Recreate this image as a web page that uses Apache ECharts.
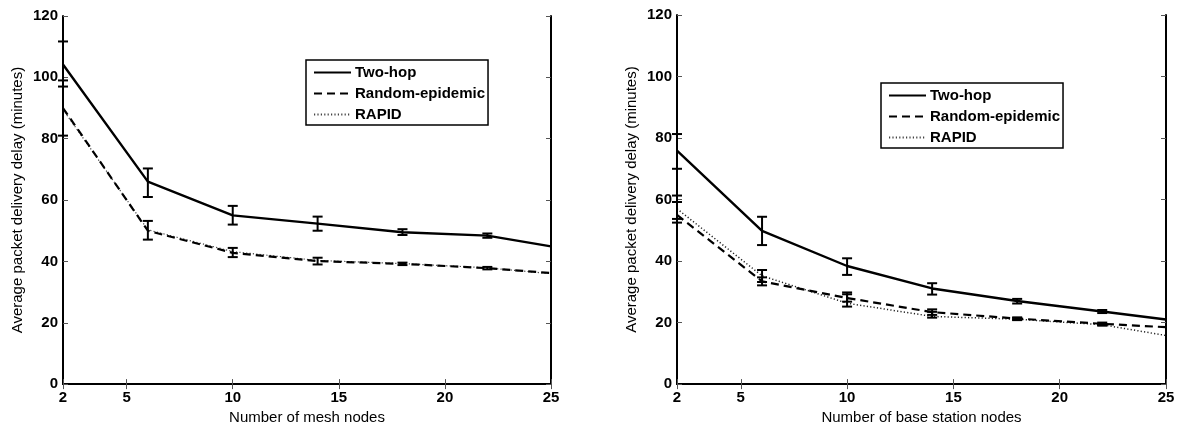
<!DOCTYPE html>
<html>
<head>
<meta charset="utf-8">
<script src="https://cdn.jsdelivr.net/npm/echarts@6/dist/echarts.min.js"></script>
<style>
html,body{margin:0;padding:0;background:#fff;}
#chart{width:1184px;height:430px;}
</style>
</head>
<body>
<div id="chart"></div>
<script>
// ---- data ----
const xs = [2, 6, 10, 14, 18, 22, 25];
const xTicks = [2, 5, 10, 15, 20, 25];
const yTicks = [0, 20, 40, 60, 80, 100, 120];
const seriesNames = ['Two-hop', 'Random-epidemic', 'RAPID'];

// Left: mesh nodes
const meshTwoHop      = [104.2, 66.0, 55.0, 52.3, 49.5, 48.4, 44.9];
const meshTwoHopLow   = [97.0, 61.0, 52.0, 50.0, 48.6, 47.7];
const meshTwoHopHigh  = [111.7, 70.3, 58.1, 54.6, 50.5, 49.1];
const meshRandom      = [90.0, 50.0, 42.8, 40.1, 39.2, 37.8, 36.2];
const meshRandomLow   = [81.0, 47.1, 41.4, 39.0, 38.8, 37.4];
const meshRandomHigh  = [99.0, 53.2, 44.4, 41.2, 39.6, 38.2];
const meshRapid       = [89.5, 50.3, 43.2, 40.3, 39.3, 37.9, 36.0];

// Right: base station nodes
const bsTwoHop      = [75.9, 49.8, 38.4, 31.1, 27.0, 23.6, 21.0];
const bsTwoHopLow   = [70.0, 45.2, 35.5, 29.1, 26.2, 23.1];
const bsTwoHopHigh  = [81.3, 54.4, 40.9, 32.8, 27.7, 24.1];
const bsRandom      = [55.0, 33.4, 28.0, 23.4, 21.3, 19.6, 18.5];
const bsRandomLow   = [52.5, 32.1, 26.8, 22.5, 20.9, 19.2];
const bsRandomHigh  = [59.2, 34.7, 29.2, 24.3, 21.7, 20.0];
const bsRapid       = [57.0, 35.2, 26.3, 22.0, 21.1, 19.3, 15.8];
const bsRapidLow    = [53.7, 33.2, 25.2, 21.6, 20.8, 19.0];
const bsRapidHigh   = [61.3, 37.1, 29.8, 23.5, 21.5, 19.6];

const xNames = ['Number of mesh nodes', 'Number of base station nodes'];
const yName = 'Average packet delivery delay (minutes)';

// ---- helpers ----
const pts = (vals) => vals.map((v, i) => [xs[i], v]);
const bars = (lo, hi) => lo.map((v, i) => [xs[i], v, hi[i]]);

function errRender(params, api) {
  const x = api.value(0), lo = api.value(1), hi = api.value(2);
  const a = api.coord([x, lo]), b = api.coord([x, hi]);
  const w = 5;
  const st = {stroke: '#000', lineWidth: 2};
  return {type: 'group', children: [
    {type: 'line', shape: {x1: a[0], y1: a[1], x2: b[0], y2: b[1]}, style: st},
    {type: 'line', shape: {x1: a[0]-w, y1: a[1], x2: a[0]+w, y2: a[1]}, style: st},
    {type: 'line', shape: {x1: b[0]-w, y1: b[1], x2: b[0]+w, y2: b[1]}, style: st}
  ]};
}

const tickFont = {fontFamily: 'Liberation Sans, Arial, sans-serif', fontWeight: 'bold', fontSize: 15, color: '#000'};
const nameFont = {fontFamily: 'Liberation Sans, Arial, sans-serif', fontSize: 15, color: '#000'};
const axLine = {show: true, lineStyle: {color: '#000', width: 2}};

const grids = [
  {left: 63, top: 16, width: 488, height: 371},
  {left: 677, top: 15, width: 489, height: 371}
];

const xAxes = [], yAxes = [];
[0, 1].forEach(g => {
  xAxes.push({
    type: 'value', gridIndex: g, min: 2, max: 25, position: 'bottom',
    name: xNames[g], nameLocation: 'middle', nameGap: 24, nameTextStyle: nameFont,
    axisLine: axLine,
    axisTick: {show: true, inside: true, length: 5, customValues: xTicks, lineStyle: {color: '#555', width: 1}},
    axisLabel: {show: true, customValues: xTicks, margin: 6, ...tickFont, showMinLabel: true, showMaxLabel: true},
    splitLine: {show: false}
  });
  xAxes.push({
    type: 'value', gridIndex: g, min: 2, max: 25, position: 'top',
    axisLine: axLine,
    axisTick: {show: true, inside: true, length: 5, customValues: xTicks, lineStyle: {color: '#555', width: 1}},
    axisLabel: {show: false}, splitLine: {show: false}
  });
  yAxes.push({
    type: 'value', gridIndex: g, min: 0, max: 120, interval: 20, position: 'left',
    name: yName, nameLocation: 'middle', nameGap: 38, nameRotate: 90, nameTextStyle: nameFont,
    axisLine: axLine,
    axisTick: {show: true, inside: true, length: 5, lineStyle: {color: '#555', width: 1}},
    axisLabel: {show: true, margin: 5, ...tickFont},
    splitLine: {show: false}
  });
  yAxes.push({
    type: 'value', gridIndex: g, min: 0, max: 120, interval: 20, position: 'right',
    axisLine: axLine,
    axisTick: {show: true, inside: true, length: 5, lineStyle: {color: '#555', width: 1}},
    axisLabel: {show: false}, splitLine: {show: false}
  });
});

function lineSeries(name, data, g, type, width, color, z) {
  return {
    type: 'line', name: name, data: data,
    xAxisIndex: g * 2, yAxisIndex: g * 2,
    symbol: 'none', showSymbol: false, smooth: false, z: z,
    lineStyle: {type: type, width: width, color: color},
    itemStyle: {color: color},
    animation: false
  };
}
function errSeries(lo, hi, g) {
  return {
    type: 'custom', name: 'err', data: bars(lo, hi),
    xAxisIndex: g * 2, yAxisIndex: g * 2, z: 5,
    renderItem: errRender, animation: false, silent: true
  };
}

const dotted = [1.2, 2.2];
const dashed = [8, 5];

const series = [
  lineSeries('RAPID', pts(meshRapid), 0, dotted, 1.2, '#444', 2),
  lineSeries('Random-epidemic', pts(meshRandom), 0, dashed, 2.2, '#000', 3),
  lineSeries('Two-hop', pts(meshTwoHop), 0, 'solid', 2.4, '#000', 4),
  errSeries(meshTwoHopLow, meshTwoHopHigh, 0),
  errSeries(meshRandomLow, meshRandomHigh, 0),
  lineSeries('RAPID', pts(bsRapid), 1, dotted, 1.5, '#222', 2),
  lineSeries('Random-epidemic', pts(bsRandom), 1, dashed, 2.2, '#000', 3),
  lineSeries('Two-hop', pts(bsTwoHop), 1, 'solid', 2.4, '#000', 4),
  errSeries(bsTwoHopLow, bsTwoHopHigh, 1),
  errSeries(bsRandomLow, bsRandomHigh, 1),
  errSeries(bsRapidLow, bsRapidHigh, 1)
];

const legendBase = {
  orient: 'vertical', data: seriesNames,
  itemWidth: 37, itemHeight: 14, itemGap: 6,
  borderColor: '#000', borderWidth: 1.5, backgroundColor: '#fff',
  padding: [5, 3, 3, 7],
  itemStyle: {opacity: 0},
  textStyle: {fontFamily: 'Liberation Sans, Arial, sans-serif', fontWeight: 'bold', fontSize: 15, color: '#000', padding: [0, 0, 0, -1]},
  selectedMode: false
};

const chart = echarts.init(document.getElementById('chart'), null, {renderer: 'canvas'});
chart.setOption({
  animation: false,
  backgroundColor: '#fff',
  grid: grids,
  xAxis: xAxes,
  yAxis: yAxes,
  legend: [
    Object.assign({}, legendBase, {left: 306, top: 60}),
    Object.assign({}, legendBase, {left: 881, top: 83})
  ],
  series: series
});
</script>
</body>
</html>
